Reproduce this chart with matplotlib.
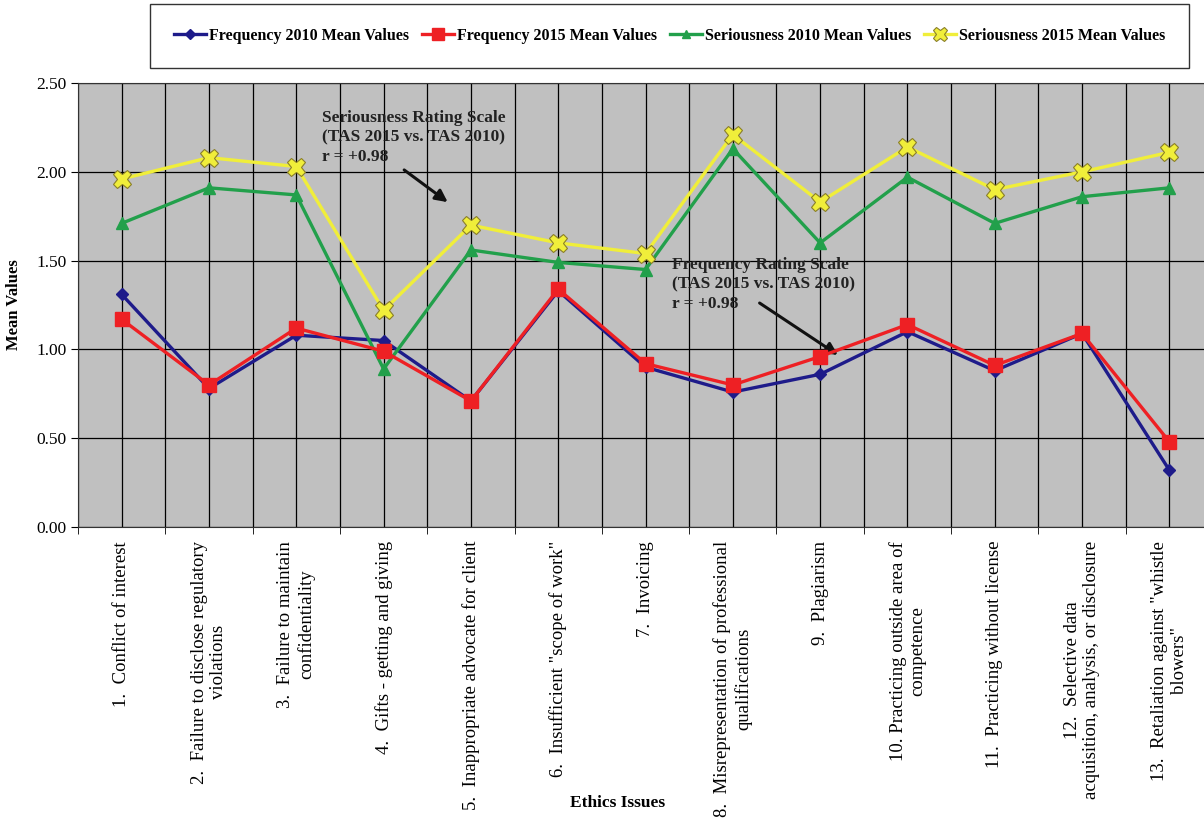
import matplotlib
matplotlib.use('Agg')
import matplotlib.pyplot as plt
from matplotlib.ticker import FormatStrFormatter
import numpy

plt.rcParams['font.family'] = ['Liberation Serif', 'DejaVu Serif']

issues = [
    '1.  Conflict of interest',
    '2.  Failure to disclose regulatory\nviolations',
    '3.  Failure to maintain\nconfidentiality',
    '4.  Gifts - getting and giving',
    '5.  Inappropriate advocate for client',
    '6.  Insufficient "scope of work"',
    '7.  Invoicing',
    '8.  Misrepresentation of professional\nqualifications',
    '9.  Plagiarism',
    '10. Practicing outside area of\ncompetence',
    '11.  Practicing without license',
    '12.  Selective data\nacquisition, analysis, or disclosure',
    '13.  Retaliation against "whistle\nblowers"',
]

freq_2010 = [1.31, 0.78, 1.08, 1.05, 0.71, 1.33, 0.90, 0.76, 0.86, 1.10, 0.88, 1.09, 0.32]
freq_2015 = [1.17, 0.80, 1.12, 0.99, 0.71, 1.34, 0.92, 0.80, 0.96, 1.14, 0.91, 1.09, 0.48]
seri_2010 = [1.71, 1.91, 1.87, 0.89, 1.56, 1.49, 1.45, 2.13, 1.60, 1.97, 1.71, 1.86, 1.91]
seri_2015 = [1.96, 2.08, 2.03, 1.22, 1.70, 1.60, 1.54, 2.21, 1.83, 2.14, 1.90, 2.00, 2.11]

series_labels = ['Frequency 2010 Mean Values', 'Frequency 2015 Mean Values',
                 'Seriousness 2010 Mean Values', 'Seriousness 2015 Mean Values']

fig = plt.figure(figsize=(12.04, 8.19), dpi=100)
ax = fig.add_axes([0.0648, 0.3565, 0.9427, 0.5421])
ax.set_facecolor('#C0C0C0')

x = numpy.arange(len(issues))

ax.plot(x, freq_2010, color='#1E1B8A', lw=2.4, marker='D', ms=6,
        mfc='#1E1B8A', mec='#1E1B8A', label=series_labels[0], zorder=4)
ax.plot(x, freq_2015, color='#EE2024', lw=2.4, marker='s', ms=10,
        mfc='#EE2024', mec='#EE2024', label=series_labels[1], zorder=5)
ax.plot(x, seri_2010, color='#22A04B', lw=2.4, marker='^', ms=8,
        mfc='#22A04B', mec='#22A04B', label=series_labels[2], zorder=4)
ax.plot(x, seri_2015, color='#F0EE3A', lw=2.4, marker='X', ms=13,
        mfc='#F0EE3A', mec='#8A7F2A', mew=0.8, label=series_labels[3], zorder=5)

ax.set_xlim(-0.5, len(issues) - 0.5)
ax.set_ylim(0, 2.5)
ax.set_yticks(numpy.arange(0, 2.51, 0.5))
ax.yaxis.set_major_formatter(FormatStrFormatter('%.2f'))

ax.set_xticks(x)
ax.set_xticklabels(issues, rotation=90, ha='center', va='top',
                   multialignment='center', fontsize=13.5)
ax.set_xticks(numpy.arange(-0.5, len(issues), 1.0), minor=True)
ax.tick_params(axis='x', which='major', length=0, pad=10)
ax.tick_params(axis='x', which='minor', length=5, direction='out')
ax.tick_params(axis='y', length=5, direction='out', labelsize=12.5)

ax.grid(True, which='both', color='black', lw=0.9)
ax.set_axisbelow(True)
for s in ax.spines.values():
    s.set_color('#333333')

ax.set_ylabel('Mean Values', fontsize=12, fontweight='bold', labelpad=10)
fig.text(0.513, 0.02, 'Ethics Issues', ha='center', va='center',
         fontsize=12.5, fontweight='bold')

ax.text(2.3, 2.35, 'Seriousness Rating Scale\n(TAS 2015 vs. TAS 2010)\nr = +0.98',
        ha='left', va='top', fontsize=12.5, fontweight='bold', color='#222222',
        linespacing=1.3)
ax.annotate('', xy=(3.76, 1.82), xytext=(3.21, 2.02),
            arrowprops=dict(arrowstyle='-|>', color='#111111', lw=2.2,
                            mutation_scale=18))

ax.text(6.3, 1.52, 'Frequency Rating Scale\n(TAS 2015 vs. TAS 2010)\nr = +0.98',
        ha='left', va='top', fontsize=12.5, fontweight='bold', color='#222222',
        linespacing=1.3)
ax.annotate('', xy=(8.23, 0.96), xytext=(7.28, 1.27),
            arrowprops=dict(arrowstyle='-|>', color='#111111', lw=2.2,
                            mutation_scale=18))

leg = fig.legend(loc='center', bbox_to_anchor=(0.556, 0.956), ncol=4,
                 frameon=True, fancybox=False, edgecolor='black',
                 prop={'size': 11.5, 'weight': 'bold'},
                 handlelength=2.0, handletextpad=0.2, columnspacing=0.8,
                 borderpad=1.5, markerscale=0.8)
leg.get_frame().set_linewidth(1.0)

fig.savefig('out.png', dpi=100)
